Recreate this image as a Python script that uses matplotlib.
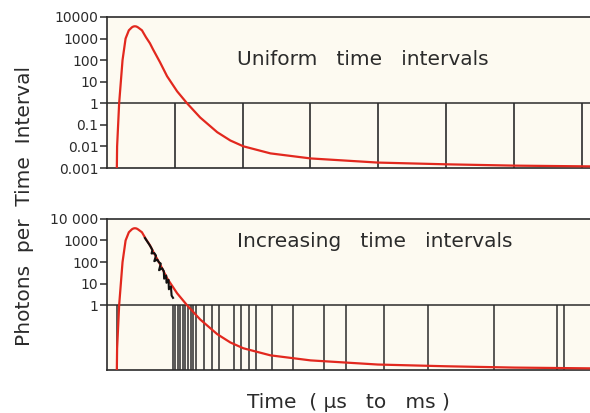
import matplotlib.pyplot as plt
import numpy as np

# decay curve (time in units of one uniform interval, photons per interval)
decay_time = [0.148, 0.152, 0.167, 0.182, 0.207, 0.232, 0.277, 0.325, 0.370,
              0.392, 0.414, 0.437, 0.459, 0.518, 0.577, 0.636, 0.680, 0.784,
              0.888, 1.036, 1.183, 1.376, 1.627, 1.820, 2.012, 2.411, 3.003,
              3.994, 4.985, 6.006, 7.115]
decay_counts = [0.001, 0.01, 0.1, 1, 10, 100, 1000, 2400, 3300,
                3600, 3700, 3600, 3300, 2400, 1150, 600, 320, 80,
                18, 3.6, 1.0, 0.22, 0.046, 0.019, 0.0102, 0.0048, 0.0028,
                0.0018, 0.0015, 0.0013, 0.0012]

# measured counts in the early, short bins
measured_time = [0.562, 0.596, 0.626, 0.651, 0.672, 0.660, 0.700, 0.725, 0.700,
                 0.745, 0.765, 0.795, 0.770, 0.815, 0.840, 0.845, 0.875, 0.880,
                 0.910, 0.915, 0.945, 0.955, 0.976]
measured_counts = [1300, 900, 650, 480, 360, 250, 260, 200, 110,
                   130, 100, 85, 42, 52, 38, 17, 24, 11,
                   15, 5.5, 7.5, 2.8, 2.2]

uniform_edges = [1, 2, 3, 4, 5, 6, 7]
increasing_edges = [0.148, 0.976, 1.010, 1.043, 1.080, 1.120, 1.158, 1.198,
                    1.238, 1.277, 1.317, 1.435, 1.553, 1.657, 1.879, 1.982,
                    2.100, 2.204, 2.440, 2.750, 3.195, 3.520, 4.083, 4.734,
                    5.710, 6.627, 6.730]

top_ticks = [1e4, 1e3, 1e2, 1e1, 1, 0.1, 0.01, 0.001]
top_labels = ["10000", "1000", "100", "10", "1", "0.1", "0.01", "0.001"]
bottom_ticks = [1e4, 1e3, 1e2, 1e1, 1]
bottom_labels = ["10 000", "1000", "100", "10", "1"]

bg = "#fdfaf1"
ink = "#2b2b2b"
red = "#e2281e"
ymin, ymax = 0.001, 10000
xmax = 7.12

fig = plt.figure(figsize=(5.9, 4.13), dpi=100)
ax_top = fig.add_axes([0.181, 0.593, 0.819, 0.366])
ax_bot = fig.add_axes([0.181, 0.104, 0.819, 0.366])


def style_axis(ax, ticks, labels):
	ax.set_facecolor(bg)
	ax.set_yscale("log")
	ax.set_ylim(ymin, ymax)
	ax.set_xlim(0, xmax)
	ax.set_xticks([])
	ax.minorticks_off()
	ax.set_yticks(ticks)
	ax.set_yticklabels(labels)
	ax.tick_params(axis="y", direction="out", length=5, width=1.1,
				   color=ink, labelcolor=ink, labelsize=10, pad=1)
	for side in ("left", "top", "bottom"):
		ax.spines[side].set_color(ink)
		ax.spines[side].set_linewidth(1.2)
	ax.spines["right"].set_visible(False)
	ax.axhline(1, color=ink, linewidth=1.1, zorder=2)


style_axis(ax_top, top_ticks, top_labels)
ax_top.vlines(uniform_edges, ymin, 1, color=ink, linewidth=1.2, zorder=2)
ax_top.plot(decay_time, decay_counts, color=red, linewidth=1.6, zorder=3)
ax_top.text(0.53, 0.682, "Uniform   time   intervals", transform=ax_top.transAxes,
			ha="center", va="baseline", fontsize=14.5, color=ink)

style_axis(ax_bot, bottom_ticks, bottom_labels)
ax_bot.vlines(increasing_edges, ymin, 1, color=ink, linewidth=1.1, zorder=2)
ax_bot.plot(decay_time, decay_counts, color=red, linewidth=1.6, zorder=3)
ax_bot.plot(measured_time, measured_counts, color="#111111", linewidth=1.5,
			zorder=4)
ax_bot.text(0.555, 0.815, "Increasing   time   intervals", transform=ax_bot.transAxes,
			ha="center", va="baseline", fontsize=14.5, color=ink)

fig.text(0.041, 0.501, "Photons  per  Time  Interval", rotation=90,
		 ha="center", va="center", fontsize=14.5, color=ink)
fig.text(0.591, 0.012, "Time  ( \u00b5s   to   ms )", ha="center", va="baseline",
		 fontsize=14.5, color=ink)

fig.savefig("out.png", dpi=100, facecolor="white")
